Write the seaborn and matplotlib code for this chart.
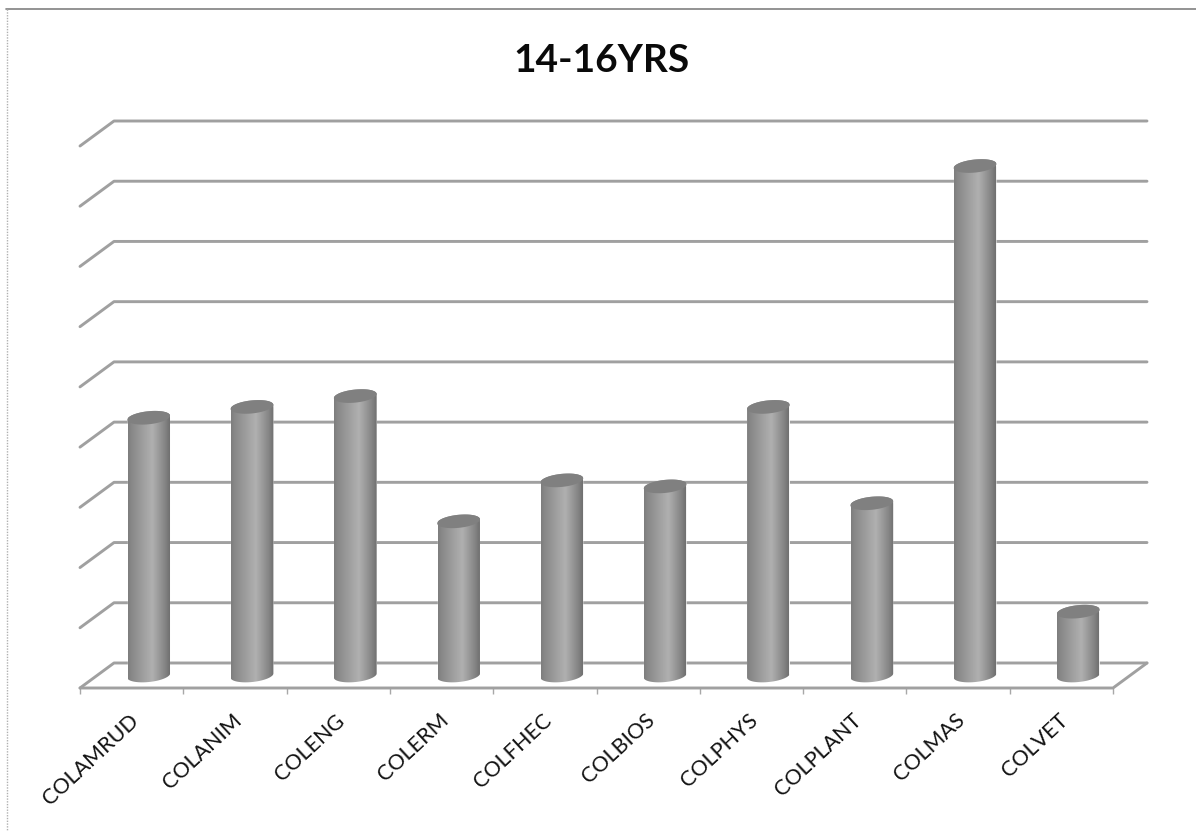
import numpy as np
import matplotlib
matplotlib.use("Agg")
import matplotlib.pyplot as plt
from matplotlib.lines import Line2D
from matplotlib.patches import Polygon
import seaborn as sns

colleges = ["COLAMRUD", "COLANIM", "COLENG", "COLERM", "COLFHEC",
            "COLBIOS", "COLPHYS", "COLPLANT", "COLMAS", "COLVET"]
values = [21.4, 22.3, 23.2, 12.8, 16.2, 15.7, 22.3, 14.3, 42.3, 5.3]
grid_values = [0, 5, 10, 15, 20, 25, 30, 35, 40, 45]

sns.set_style("white")
plt.rcParams["font.family"] = ["Lato", "DejaVu Sans"]

W, H = 1196, 831
GRID = "#a0a0a0"

# sizes of one x / y unit in pixels, the fake 3d depth comes from these
px_x = 103.3
px_y = 12.04
dx = 34 / px_x
dy = 25 / px_y

fig = plt.figure(figsize=(W / 100, H / 100), dpi=100)
ax = fig.add_axes([80 / W, 1 - 688 / H, (1147 - 80) / W, (688 - 121) / H])

sns.barplot(x=colleges, y=values, color="#a0a0a0", saturation=1, width=42 / px_x, ax=ax, zorder=3)

x_left = -0.5
x_right = len(colleges) - 0.5

# walls and floor
for v in grid_values:
    ax.plot([x_left - dx / 2, x_left + dx / 2, x_right + dx / 2],
            [v - dy / 2, v + dy / 2, v + dy / 2],
            color=GRID, lw=2.1, clip_on=False, zorder=1, solid_capstyle="round")
ax.plot([x_left - dx / 2, x_right - dx / 2, x_right + dx / 2],
        [-dy / 2, -dy / 2, dy / 2],
        color=GRID, lw=2.1, clip_on=False, zorder=1)


def ellipse_pts(cx, cy, t):
    # tilted ellipse given in pixels, returned in data units
    a, b, tilt = 21.5, 6.5, np.radians(6)
    ex = a * np.cos(t) * np.cos(tilt) - b * np.sin(t) * np.sin(tilt)
    ey = a * np.cos(t) * np.sin(tilt) + b * np.sin(t) * np.cos(tilt)
    return np.column_stack([cx + ex / px_x, cy + ey / px_y])


# shading across one cylinder
stops = np.interp(np.linspace(0, 1, 64),
                  [0, 0.1, 0.58, 0.88, 1],
                  [126, 138, 176, 134, 112])
shade = stops.reshape(1, -1)

for bar in ax.patches:
    cx = bar.get_x() + bar.get_width() / 2
    h = bar.get_height()
    low = ellipse_pts(cx, 0, np.linspace(np.pi, 2 * np.pi, 40))
    top = ellipse_pts(cx, h, np.linspace(0, np.pi, 40))
    outline = Polygon(np.vstack([low, top]), transform=ax.transData)
    bar.set_clip_path(outline)
    img = ax.imshow(shade, cmap="gray", vmin=0, vmax=255, aspect="auto",
                    extent=[bar.get_x(), bar.get_x() + bar.get_width(), -2, h + 2],
                    interpolation="bilinear", zorder=3.5)
    img.set_clip_path(outline)
    lid = ellipse_pts(cx, h, np.linspace(0, 2 * np.pi, 60))
    ax.add_patch(Polygon(lid, facecolor="#808080", edgecolor="none", zorder=4, clip_on=False))

ax.set_xlim(x_left - dx / 2, x_right + dx / 2)
ax.set_ylim(-dy / 2, grid_values[-1] + dy / 2)
ax.set_xlabel("")
ax.set_ylabel("")
ax.set_yticks([])

positions = np.arange(len(colleges)) - dx / 2 - 0.03
ax.set_xticks(positions, labels=colleges, rotation=43, ha="right", va="top",
              rotation_mode="anchor", fontsize=15.5, color="#111111")
ax.set_xticks(np.arange(len(colleges) + 1) - 0.5 - dx / 2, minor=True)
ax.tick_params(axis="x", which="major", length=0, pad=16)
ax.tick_params(axis="x", which="minor", length=4.5, width=1, color="#a8a8a8", bottom=True)
sns.despine(ax=ax, left=True, bottom=True)

fig.text(601 / W, 1 - 61 / H, "14-16YRS", fontsize=28, fontweight="bold",
         ha="center", va="center", color="#0a0a0a")

# chart frame of the screenshot
fig.add_artist(Line2D([6 / W, 1], [1 - 9 / H, 1 - 9 / H], color="#808080", lw=1.2))
fig.add_artist(Line2D([6.5 / W, 6.5 / W], [1 - 9 / H, 0], color="#b0b0b0", lw=1, ls=(0, (1, 1))))

fig.savefig("out.png", dpi=100)
